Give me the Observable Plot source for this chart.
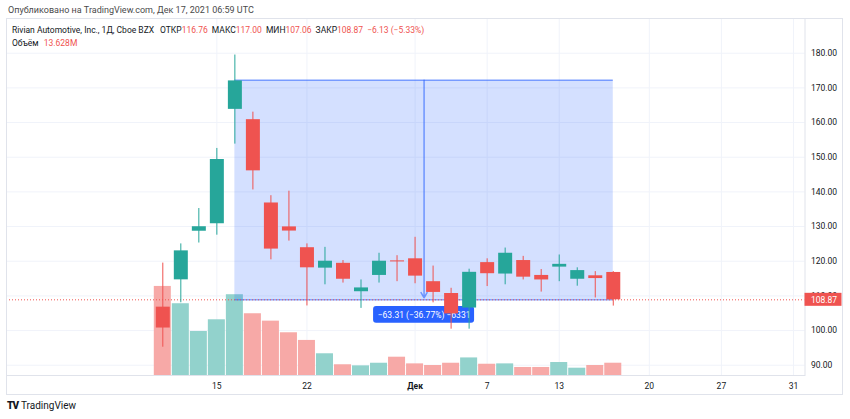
<!DOCTYPE html>
<html>
<head>
<meta charset="utf-8">
<script src="https://cdn.jsdelivr.net/npm/d3@7"></script>
<script src="https://cdn.jsdelivr.net/npm/@observablehq/plot@0.6"></script>
<style>
  body { margin: 0; background: #fff; font-family: Roboto, "Liberation Sans", sans-serif; }
  #wrap { position: relative; width: 850px; height: 419px; overflow: hidden; background: #fff; }
  #hdr { position: absolute; left: 8px; top: 5px; font-size: 9px; color: #4a4a4a; white-space: nowrap; }
  #box { position: absolute; left: 6px; top: 18px; width: 837px; height: 377px; border: 1px solid #e0e3eb; box-sizing: border-box; }
  .layer { position: absolute; left: 0; top: 18px; }
  #legend { position: absolute; left: 12px; top: 23.5px; font-size: 8.5px; color: #131722; line-height: 13px; white-space: nowrap; }
  #legend .r { color: #ef5350; }
  #legend .g { margin-left: 4px; }
  #legend .first { margin-left: 6px; }
  #foot { position: absolute; left: 7px; top: 400px; font-size: 10px; color: #131722; white-space: nowrap; }
  #foot b { font-weight: 900; letter-spacing: -1px; margin-right: 3px; }
</style>
</head>
<body>
<div id="wrap">
  <div id="hdr">Опубликовано на TradingView.com, Дек 17, 2021 06:59 UTC</div>
  <div id="box"></div>
  <div id="l1" class="layer"></div>
  <div id="l2" class="layer"></div>
  <div id="l3" class="layer"></div>
  <div id="legend">
    <div>Rivian Automotive, Inc., 1Д, Cboe BZX<span class="first">ОТКР</span><span class="r">116.76</span><span class="g">МАКС</span><span class="r">117.00</span><span class="g">МИН</span><span class="r">107.06</span><span class="g">ЗАКР</span><span class="r">108.87</span><span class="g r">−6.13 (−5.33%)</span></div>
    <div>Объём <span class="r" style="margin-left:3px">13.628M</span></div>
  </div>
  <div id="foot"><b>TV</b>TradingView</div>
</div>
<script>
// ---- data ----
const dates = ["2021-11-10","2021-11-11","2021-11-12","2021-11-15","2021-11-16","2021-11-17","2021-11-18","2021-11-19","2021-11-22","2021-11-23","2021-11-24","2021-11-26","2021-11-29","2021-11-30","2021-12-01","2021-12-02","2021-12-03","2021-12-06","2021-12-07","2021-12-08","2021-12-09","2021-12-10","2021-12-13","2021-12-14","2021-12-15","2021-12-16"];
const open  = [106.75,114.63,128.65,130.80,163.80,160.83,136.80,129.90,123.90,118.00,119.40,111.20,115.90,120.10,120.70,114.10,110.70,106.50,119.60,116.30,120.20,115.90,118.30,114.80,115.80,116.76];
const high  = [119.46,125.00,135.20,152.53,179.47,163.00,138.90,140.20,125.00,124.00,120.20,114.60,122.30,121.60,126.90,118.60,112.20,117.70,120.70,123.80,121.40,117.60,121.80,118.10,117.00,117.00];
const low   = [95.20,108.01,125.25,127.51,153.78,140.56,120.40,125.80,107.10,113.20,113.70,106.40,113.70,114.10,113.50,108.00,100.40,100.40,112.70,113.20,114.60,111.10,114.10,112.80,109.40,107.06];
const close = [100.73,122.99,129.95,149.36,172.01,146.07,123.50,128.70,118.10,120.00,114.80,112.30,120.00,119.80,115.70,111.00,104.80,116.80,116.40,122.30,115.40,114.60,119.10,117.30,115.00,108.87];
const volume = [98.8,79.6,48.8,61.8,89.6,68.5,60.3,47.4,38.9,24.1,11.9,10.7,13.6,20.3,12.9,11.1,13.6,19.5,12.5,12.9,8.9,8.9,14.4,8.1,11.1,13.628];
const futureDates = ["2021-12-17","2021-12-20","2021-12-21","2021-12-22","2021-12-23","2021-12-27","2021-12-28","2021-12-29","2021-12-30","2021-12-31"];
const tickDates  = ["2021-11-15","2021-11-22","2021-12-01","2021-12-07","2021-12-13","2021-12-20","2021-12-27","2021-12-31"];
const tickLabels = ["15","22","Дек","7","13","20","27","31"];
const monthTick = "Дек";
const priceTicks = [90,100,110,120,130,140,150,160,170,180];
const measureFrom = "2021-11-16", measureTo = "2021-12-16";
const measureHigh = 172.18, measureLow = 108.87;
const measureText = "−63.31 (−36.77%) −6331";
const lastClose = 108.87;

// ---- layout ----
const UP = "#26a69a", DOWN = "#ef5350";
const UPV = "#92d2cc", DOWNV = "#f7a9a7";
const W = 850, H = 377;
const M = {marginTop: 0, marginLeft: 6, marginRight: 45.5, marginBottom: 20};
const xDomain = [-8.674, 35.64];
const yDomain = [87.04, 190.01];
const volDomain = [0, 396];
const font = "Roboto, 'Liberation Sans', sans-serif";

const allDates = dates.concat(futureDates);
const idx = d => allDates.indexOf(d);
const candles = dates.map((d, i) => ({i, o: open[i], h: high[i], l: low[i], c: close[i], v: volume[i], up: close[i] >= open[i]}));
const ticks = tickDates.map((d, k) => ({i: idx(d), label: tickLabels[k]}));
const labelOf = new Map(ticks.map(t => [t.i, t.label]));
const normalTicks = ticks.filter(t => t.label !== monthTick).map(t => t.i);
const boldTicks = ticks.filter(t => t.label === monthTick).map(t => t.i);
const m0 = idx(measureFrom), m1 = idx(measureTo);
const measure = [{x1: m0, x2: m1, mid: (m0 + m1) / 2, hi: measureHigh, lo: measureLow}];
const edges = [{x1: m0, x2: m1, y: measureHigh}, {x1: m0, x2: m1, y: measureLow}];
const lastBox = [{x: xDomain[1], y: lastClose}];

const base = {width: W, height: H, ...M, style: {background: "transparent", fontFamily: font, overflow: "visible"}};

// layer 1: grid
const grid = Plot.plot({
  ...base,
  x: {type: "linear", domain: xDomain, axis: null},
  y: {domain: yDomain, axis: null},
  marks: [
    Plot.gridY(priceTicks, {stroke: "#f0f3fa", strokeOpacity: 1}),
    Plot.gridX(ticks.map(t => t.i), {stroke: "#f0f3fa", strokeOpacity: 1})
  ]
});
document.getElementById("l1").append(grid);

// layer 2: volume
const vol = Plot.plot({
  ...base,
  x: {type: "linear", domain: xDomain, axis: null},
  y: {domain: volDomain, axis: null},
  marks: [
    Plot.rectY(candles, {x1: d => d.i - 0.5, x2: d => d.i + 0.5, y: "v", fill: d => d.up ? UPV : DOWNV, insetLeft: 0.5, insetRight: 0.5})
  ]
});
document.getElementById("l2").append(vol);

// layer 3: price
const price = Plot.plot({
  ...base,
  x: {type: "linear", domain: xDomain},
  y: {domain: yDomain},
  marks: [
    Plot.rect(measure, {x1: "x1", x2: "x2", y1: "lo", y2: "hi", fill: "#2962ff", fillOpacity: 0.2}),
    Plot.ruleY(edges, {x1: "x1", x2: "x2", y: "y", stroke: "#2962ff", strokeOpacity: 0.55, strokeWidth: 1.5}),
    Plot.ruleY([lastClose], {stroke: DOWN, strokeDasharray: "1,2", strokeWidth: 1}),
    Plot.arrow(measure, {x1: "mid", x2: "mid", y1: "hi", y2: "lo", stroke: "#2962ff", strokeOpacity: 0.6, strokeWidth: 1.5, headLength: 6, insetEnd: 2}),
    Plot.rect(measure, {x1: "mid", x2: "mid", y1: "lo", y2: "lo", insetLeft: -50.5, insetRight: -50.5, insetTop: -8.4, insetBottom: -8.4, dy: 15, rx: 3, fill: "#2962ff"}),
    Plot.text(measure, {x: "mid", y: "lo", dy: 15, text: () => measureText, fill: "white", fontSize: 8.5}),
    Plot.ruleX(candles, {x: "i", y1: "l", y2: "h", stroke: d => d.up ? UP : DOWN, strokeWidth: 1}),
    Plot.ruleX(candles, {x: "i", y1: "o", y2: "c", stroke: d => d.up ? UP : DOWN, strokeWidth: 14}),
    Plot.frame({stroke: "#e0e3eb"}),
    Plot.axisY(priceTicks, {anchor: "right", tickSize: 0, tickPadding: 6, textAnchor: "start", tickFormat: d => d.toFixed(2), fontSize: 8.5, fill: "#131722"}),
    Plot.rect(lastBox, {x1: "x", x2: "x", y1: "y", y2: "y", insetRight: -37, insetTop: -6.5, insetBottom: -6.5, fill: DOWN, clip: false}),
    Plot.text(lastBox, {x: "x", y: "y", dx: 6, text: d => d.y.toFixed(2), textAnchor: "start", fill: "white", fontSize: 8.5, clip: false}),
    Plot.axisX(normalTicks, {anchor: "bottom", tickSize: 0, tickPadding: 7, tickFormat: i => labelOf.get(i), fontSize: 8.5, fill: "#131722", label: null}),
    Plot.axisX(boldTicks, {anchor: "bottom", tickSize: 0, tickPadding: 7, tickFormat: i => labelOf.get(i), fontSize: 8.5, fontWeight: "bold", fill: "#131722", label: null})
  ]
});
document.getElementById("l3").append(price);
</script>
</body>
</html>
